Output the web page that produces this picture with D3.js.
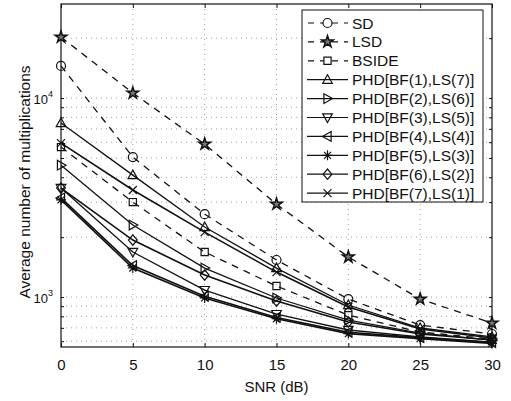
<!DOCTYPE html>
<html>
<head>
<meta charset="utf-8">
<script src="https://cdn.jsdelivr.net/npm/d3@7"></script>
<style>
  body { margin: 0; background: #fff; }
  text { font-family: "Liberation Sans", Arial, sans-serif; fill: #111; }
</style>
</head>
<body>
<div id="chart"></div>
<script>
// data
const snr = [0, 5, 10, 15, 20, 25, 30];
const seriesNames = ["SD", "LSD", "BSIDE",
  "PHD[BF(1),LS(7)]", "PHD[BF(2),LS(6)]", "PHD[BF(3),LS(5)]", "PHD[BF(4),LS(4)]",
  "PHD[BF(5),LS(3)]", "PHD[BF(6),LS(2)]", "PHD[BF(7),LS(1)]"];
const sd    = [14500, 5050, 2610, 1535, 977, 723, 652];
const lsd   = [20250, 10600, 5870, 2930, 1590, 977, 740];
const bside = [5670, 3000, 1683, 1136, 811, 667, 615];
const phd1  = [7490, 4100, 2250, 1398, 912, 699, 630];
const phd2  = [4600, 2300, 1398, 989, 766, 659, 608];
const phd3  = [3530, 1683, 1084, 821, 683, 630, 594];
const phd4  = [3150, 1440, 1010, 790, 665, 625, 590];
const phd5  = [3080, 1400, 990, 778, 655, 618, 585];
const phd6  = [3530, 1934, 1290, 955, 749, 652, 608];
const phd7  = [5940, 3450, 2121, 1335, 891, 691, 622];
const allSeries = [sd, lsd, bside, phd1, phd2, phd3, phd4, phd5, phd6, phd7];
const markers = ["circle", "star", "square", "triUp", "triRight", "triDown", "triLeft", "asterisk", "diamond", "x"];
const dashed = [true, true, true, false, false, false, false, false, false, false];
const xTicks = [0, 5, 10, 15, 20, 25, 30];
const yMajor = [1000, 10000];

const W = 511, H = 401;
const margin = {top: 4, right: 19, bottom: 54, left: 61};
const width = W - margin.left - margin.right;
const height = H - margin.top - margin.bottom;

const svg = d3.select("#chart").append("svg")
  .attr("width", W).attr("height", H);
const chart = svg.append("g")
  .attr("transform", `translate(${margin.left},${margin.top})`);

const xScale = d3.scaleLinear().domain([0, 30]).range([0, width]);
const yScale = d3.scaleLog().domain([561, 29700]).range([height, 0]);

// minor log ticks for the grid
const yGrid = [];
[100, 1000, 10000].forEach(dec => {
  for (let k = 1; k <= 9; k++) {
    const v = dec * k;
    if (v >= 561 && v <= 29700) yGrid.push(v);
  }
});

// dotted grid
chart.selectAll(".gx").data(xTicks.slice(1, -1)).join("line")
  .attr("x1", d => xScale(d)).attr("x2", d => xScale(d))
  .attr("y1", 0).attr("y2", height)
  .attr("stroke", "#888").attr("stroke-width", 0.8).attr("stroke-dasharray", "1,4");
chart.selectAll(".gy").data(yGrid).join("line")
  .attr("x1", 0).attr("x2", width)
  .attr("y1", d => yScale(d)).attr("y2", d => yScale(d))
  .attr("stroke", "#888").attr("stroke-width", 0.8).attr("stroke-dasharray", "1,4");

// axes with inward ticks
const xAxis = d3.axisBottom(xScale).tickValues(xTicks).tickSize(-4).tickSizeOuter(0).tickPadding(12);
const xAxisG = chart.append("g").attr("transform", `translate(0,${height})`).call(xAxis);
xAxisG.selectAll("text").attr("font-size", 15).style("font-family", "Liberation Sans, Arial, sans-serif");
chart.append("g").call(d3.axisTop(xScale).tickValues(xTicks).tickSize(-4).tickSizeOuter(0).tickFormat(""));

const yAxisL = d3.axisLeft(yScale).tickValues(yGrid).tickSize(-3).tickFormat("");
chart.append("g").call(yAxisL);
chart.append("g").attr("transform", `translate(${width},0)`)
  .call(d3.axisRight(yScale).tickValues(yGrid).tickSize(-3).tickFormat(""));
chart.selectAll(".tick line").attr("stroke", "#111");
chart.selectAll(".domain").remove();

chart.append("rect").attr("width", width).attr("height", height)
  .attr("fill", "none").attr("stroke", "#111").attr("stroke-width", 1.2);

// y labels 10^3, 10^4
yMajor.forEach(v => {
  const t = chart.append("text")
    .attr("x", -8).attr("y", yScale(v) + 6)
    .attr("text-anchor", "end").attr("font-size", 13);
  t.append("tspan").text("10");
  t.append("tspan").attr("dy", -7).attr("font-size", 9).text(Math.log10(v));
});

// axis titles
svg.append("text")
  .attr("x", margin.left + width / 2).attr("y", 392)
  .attr("text-anchor", "middle").attr("font-size", 15).text("SNR (dB)");
svg.append("text")
  .attr("transform", `translate(30,${182}) rotate(-90)`)
  .attr("text-anchor", "middle").attr("font-size", 15.5).text("Average number of multiplications");

// marker paths
function markerPath(type) {
  const r = 4.5;
  switch (type) {
    case "circle": return `M${-r},0A${r},${r} 0 1,0 ${r},0A${r},${r} 0 1,0 ${-r},0Z`;
    case "square": return `M-3.6,-3.6H3.6V3.6H-3.6Z`;
    case "triUp": return `M0,-5L4.8,3.6H-4.8Z`;
    case "triDown": return `M0,5L4.8,-3.6H-4.8Z`;
    case "triRight": return `M5,0L-3.6,4.8V-4.8Z`;
    case "triLeft": return `M-5,0L3.6,4.8V-4.8Z`;
    case "diamond": return `M0,-5.2L4.4,0L0,5.2L-4.4,0Z`;
    case "x": return `M-4,-4L4,4M-4,4L4,-4`;
    case "asterisk": return `M-5,0H5M0,-5V5M-3.5,-3.5L3.5,3.5M-3.5,3.5L3.5,-3.5`;
    case "star": return d3.symbol(d3.symbolStar, 42)();
  }
}

const line = d3.line().x((d, i) => xScale(snr[i])).y(d => yScale(d));

allSeries.forEach((vals, s) => {
  chart.append("path")
    .attr("d", line(vals))
    .attr("fill", "none").attr("stroke", "#111")
    .attr("stroke-width", s > 5 ? 1.6 : 1.3)
    .attr("stroke-dasharray", dashed[s] ? "7,6" : null);
  chart.selectAll(`.m${s}`).data(vals).join("path")
    .attr("transform", (d, i) => `translate(${xScale(snr[i])},${yScale(d)})`)
    .attr("d", markerPath(markers[s]))
    .attr("fill", markers[s] === "star" ? "#777" : "none")
    .attr("stroke", "#111").attr("stroke-width", markers[s] === "star" ? 1.5 : 1.2);
});

// legend
const legend = svg.append("g").attr("transform", "translate(302,10)");
legend.append("rect").attr("width", 181).attr("height", 192)
  .attr("fill", "#fff").attr("stroke", "#111").attr("stroke-width", 1);
seriesNames.forEach((name, s) => {
  const y = 13 + s * 18.9;
  legend.append("line").attr("x1", 5).attr("x2", 46).attr("y1", y).attr("y2", y)
    .attr("stroke", "#111").attr("stroke-width", 1.2)
    .attr("stroke-dasharray", dashed[s] ? "6,6" : null)
    .attr("stroke-dashoffset", dashed[s] ? -1 : null);
  legend.append("path").attr("transform", `translate(25.5,${y})`)
    .attr("d", markerPath(markers[s]))
    .attr("fill", markers[s] === "star" ? "#777" : (dashed[s] ? "#fff" : "none"))
    .attr("stroke", "#111").attr("stroke-width", markers[s] === "star" ? 1.5 : 1.2);
  legend.append("text").attr("x", 50).attr("y", y + 5.5)
    .attr("font-size", 15.5).text(name);
});
</script>
</body>
</html>
